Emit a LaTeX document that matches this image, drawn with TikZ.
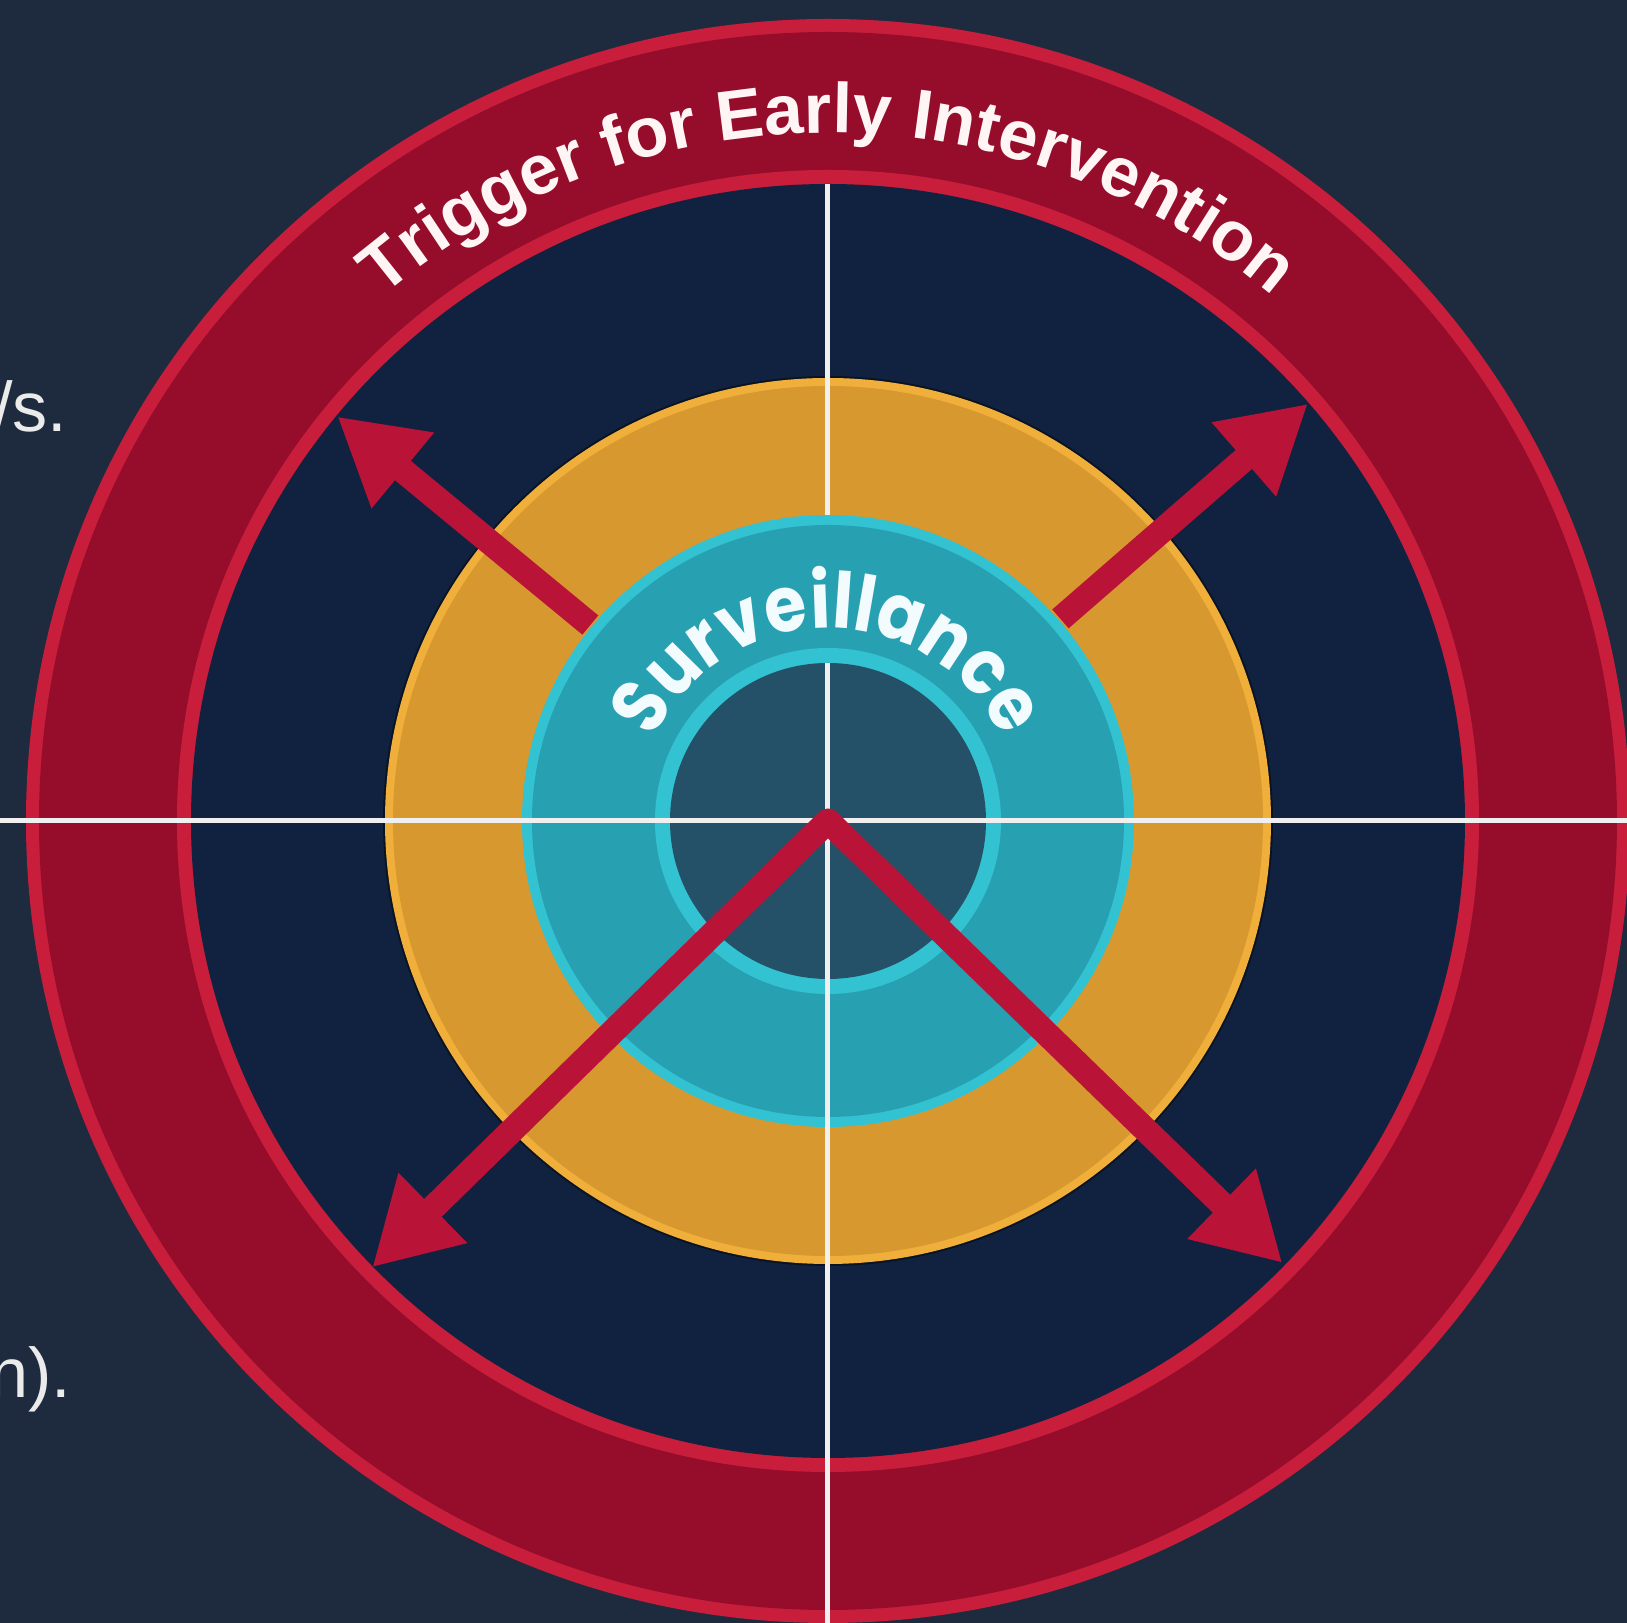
\documentclass[tikz,border=0pt]{standalone}
\usepackage{fontspec}
\setmainfont{Liberation Sans}
\newfontfamily\survfont[FakeStretch=0.88]{Poppins}
\usepackage{tikz}
\usetikzlibrary{arrows.meta,decorations.text,positioning,calc}
\definecolor{bgnavy}{HTML}{1E2B3E}
\definecolor{ringnavy}{HTML}{112240}
\definecolor{ringred}{HTML}{960D2C}
\definecolor{ringredlight}{HTML}{C81E3C}
\definecolor{orangefill}{HTML}{D6982F}
\definecolor{orangelight}{HTML}{F0AF3A}
\definecolor{cyanfill}{HTML}{27A0B2}
\definecolor{cyanlight}{HTML}{33C2D2}
\definecolor{coredark}{HTML}{245168}
\definecolor{arrowred}{HTML}{BA1338}
\tikzset{bigtip/.tip={Triangle[length=8.5mm,width=9.2mm]}}
\begin{document}
\begin{tikzpicture}[
  crossline/.style={draw=white!94!black, line width=0.5mm},
  spoke/.style={draw=arrowred, line width=2.5mm, line join=round},
  sidetext/.style={anchor=base east, inner sep=0pt, text=white!92!black, font=\fontsize{20}{24}\selectfont},
]
\useasboundingbox (-8.28,-8.02) rectangle (7.99,8.21);
\fill[bgnavy] (-8.28,-8.02) rectangle (7.99,8.21);
\begin{scope}
\clip (-8.28,-8.02) rectangle (7.99,8.21);
\coordinate (c) at (0,0);
\fill[ringredlight] (c) circle (8.02);
\fill[ringred] (c) circle (7.89);
\fill[ringredlight] (c) circle (6.51);
\fill[ringnavy] (c) circle (6.37);
\fill[ringnavy!55!black] (c) circle (4.45);
\fill[orangelight] (c) circle (4.43);
\fill[orangefill] (c) circle (4.35);
\fill[cyanlight] (c) circle (3.06);
\fill[cyanfill] (c) circle (2.96);
\fill[cyanlight] (c) circle (1.73);
\fill[coredark] (c) circle (1.58);
\node[sidetext] (daysTxt) at (-7.60,3.89) {/s.};
\node[sidetext] (endTxt) at (-7.56,-5.77) {n).};
\coordinate (west) at (-8.28,0);
\coordinate (east) at (7.99,0);
\coordinate (topA) at (0,6.37);
\coordinate (topB) at (0,3.06);
\coordinate (midB) at (0,1.58);
\coordinate (south) at (0,-8.02);
\draw[crossline] (west) -- (east);
\draw[crossline] (topA) -- (topB);
\draw[crossline] (midB) -- (south);
\path[decorate, decoration={text along path, text align=center,
  text={|\survfont\fontsize{22}{26}\selectfont\bfseries\color{white!95!cyan}|Surveillance}}]
  (170:1.93) arc[start angle=170, end angle=10, radius=1.93];
\coordinate (ulS) at (140.5:3.08);
\coordinate (ulT) at (140.5:6.36);
\coordinate (urS) at (41:3.08);
\coordinate (urT) at (41:6.36);
\coordinate (llT) at (224.4:6.38);
\coordinate (lrT) at (-44.2:6.34);
\draw[spoke, -bigtip] (ulS) -- (ulT);
\draw[spoke, -bigtip] (urS) -- (urT);
\draw[spoke, bigtip-bigtip] (llT) -- (c) -- (lrT);
\path[decorate, decoration={text along path, text align=center,
  text={|\fontsize{20}{24}\selectfont\bfseries\color{white!96!red}|Trigger for Early Intervention}}]
  (150:6.88) arc[start angle=150, end angle=30, radius=6.88];
\end{scope}
\end{tikzpicture}
\end{document}
